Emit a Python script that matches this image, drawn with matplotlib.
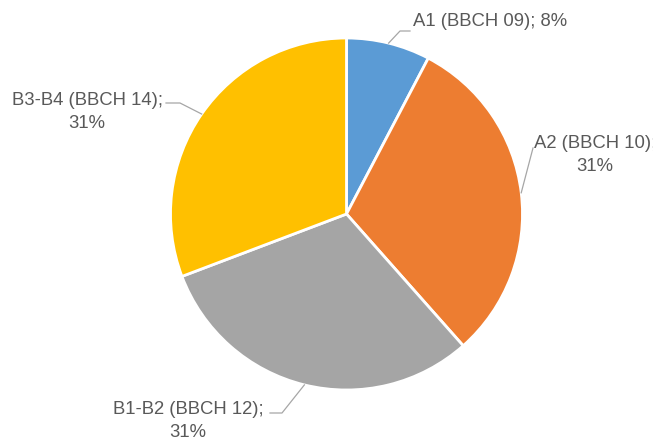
import numpy as np
import matplotlib
matplotlib.use("Agg")
import matplotlib.pyplot as plt

W, H = 653, 441

labels = ["A1 (BBCH 09)", "A2 (BBCH 10)", "B1-B2 (BBCH 12)", "B3-B4 (BBCH 14)"]
values = [1, 4, 4, 4]
colors = ["#5B9BD5", "#ED7D31", "#A5A5A5", "#FFC000"]

# label layout in pixels: (text x, text y, ha, two_lines, elbow x, elbow y)
label_pos = [
    (413, 22, "left", False, 400, 31),
    (595, 155, "center", True, 533, 148),
    (188, 421, "center", True, 282, 413),
    (87, 112, "center", True, 180, 103),
]
line_end = [(410, 31), (533, 148), (270, 413), (166, 103)]

plt.rcParams["font.family"] = ["Liberation Sans", "DejaVu Sans"]

cx, cy, r = 346.5, 214, 176

fig = plt.figure(figsize=(W / 100, H / 100), dpi=100)
ax = fig.add_axes([(cx - r) / W, (H - cy - r) / H, 2 * r / W, 2 * r / H])
wedges, _ = ax.pie(values, colors=colors, startangle=90, counterclock=False,
                   wedgeprops=dict(edgecolor="white", linewidth=2))
ax.set_xlim(-1, 1)
ax.set_ylim(-1, 1)
ax.set_aspect("equal")
ax.axis("off")

total = sum(values)


def fx(x):
    return x / W


def fy(y):
    return 1 - y / H


for w, lab, v, pos, end in zip(wedges, labels, values, label_pos, line_end):
    tx, ty, ha, two, ex, ey = pos
    pct = f"{round(100 * v / total)}%"
    text = f"{lab};\n{pct}" if two else f"{lab}; {pct}"
    fig.text(fx(tx), fy(ty), text, ha=ha, va="center", fontsize=13.3,
             color="#595959", linespacing=1.5)
    ang = np.deg2rad((w.theta1 + w.theta2) / 2)
    px = cx + r * np.cos(ang)
    py = cy - r * np.sin(ang)
    fig.add_artist(plt.Line2D([fx(px), fx(ex), fx(end[0])], [fy(py), fy(ey), fy(end[1])],
                              color="#A6A6A6", linewidth=0.9))

fig.savefig("out.png", dpi=100)
